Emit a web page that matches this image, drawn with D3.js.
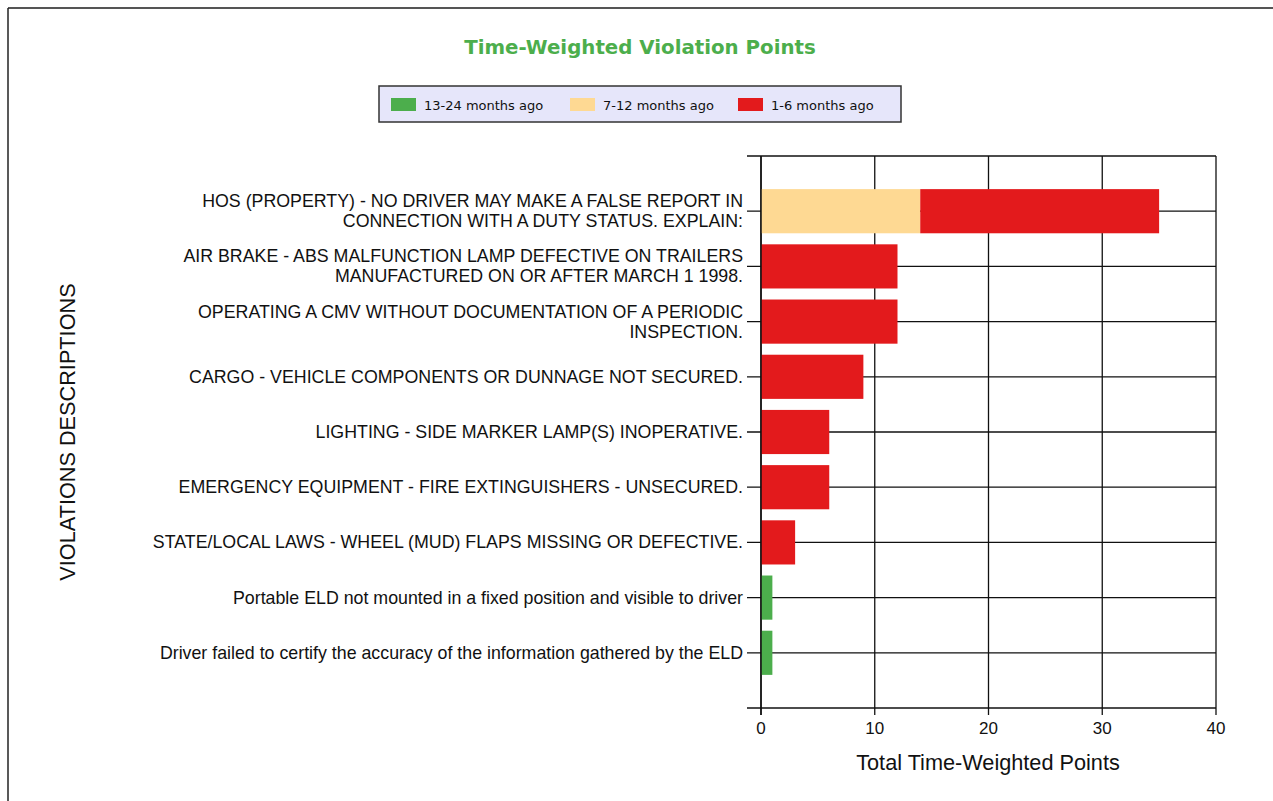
<!DOCTYPE html>
<html>
<head>
<meta charset="utf-8">
<script src="https://cdn.jsdelivr.net/npm/d3@7"></script>
<style>
  body { margin: 0; background: #fff; }
  svg text { font-family: "Liberation Sans", Arial, sans-serif; }
</style>
</head>
<body>
<div id="chart"></div>
<script>
// categories (top to bottom), each label split into lines
const categories = [
    ["HOS (PROPERTY) - NO DRIVER MAY MAKE A FALSE REPORT IN", "CONNECTION WITH A DUTY STATUS. EXPLAIN:"],
    ["AIR BRAKE - ABS MALFUNCTION LAMP DEFECTIVE ON TRAILERS", "MANUFACTURED ON OR AFTER MARCH 1 1998."],
    ["OPERATING A CMV WITHOUT DOCUMENTATION OF A PERIODIC", "INSPECTION."],
    ["CARGO - VEHICLE COMPONENTS OR DUNNAGE NOT SECURED."],
    ["LIGHTING - SIDE MARKER LAMP(S) INOPERATIVE."],
    ["EMERGENCY EQUIPMENT - FIRE EXTINGUISHERS - UNSECURED."],
    ["STATE/LOCAL LAWS - WHEEL (MUD) FLAPS MISSING OR DEFECTIVE."],
    ["Portable ELD not mounted in a fixed position and visible to driver"],
    ["Driver failed to certify the accuracy of the information gathered by the ELD"]
];

const seriesNames = ["13-24 months ago", "7-12 months ago", "1-6 months ago"];
const colors = ["#4cae4c", "#fed993", "#e31a1c"];

const months13to24 = [0, 0, 0, 0, 0, 0, 0, 1, 1];
const months7to12 = [14, 0, 0, 0, 0, 0, 0, 0, 0];
const months1to6 = [21, 12, 12, 9, 6, 6, 3, 0, 0];

const xTicks = [0, 10, 20, 30, 40];

const width = 1273, height = 801;
const plot = { left: 761, right: 1216, top: 156, bottom: 708 };

let svg = d3.select("#chart")
    .append("svg")
    .attr("width", width)
    .attr("height", height);

// outer frame (top and left edges only show)
svg.append("line")
    .attr("x1", 8).attr("x2", width)
    .attr("y1", 8).attr("y2", 8)
    .attr("stroke", "#555").attr("stroke-width", 2);
svg.append("line")
    .attr("x1", 8).attr("x2", 8)
    .attr("y1", 8).attr("y2", height)
    .attr("stroke", "#222").attr("stroke-width", 1.5);

// title
svg.append("text")
    .text("Time-Weighted Violation Points")
    .attr("x", 640).attr("y", 54)
    .attr("text-anchor", "middle")
    .style("font-family", "'DejaVu Sans', Verdana, sans-serif")
    .style("font-weight", "bold")
    .style("font-size", "19.8px")
    .attr("fill", "#4cae4c");

// legend
let legend = svg.append("g").attr("transform", "translate(379, 86)");
legend.append("rect")
    .attr("width", 522).attr("height", 36)
    .attr("fill", "#e6e6fa")
    .attr("stroke", "#333").attr("stroke-width", 1.5);
const legendX = [12, 191, 359];
seriesNames.forEach(function (name, i) {
    let g = legend.append("g").attr("transform", "translate(" + legendX[i] + ", 0)");
    g.append("rect")
        .attr("y", 12).attr("width", 25).attr("height", 13)
        .attr("fill", colors[i]);
    g.append("text")
        .text(name)
        .attr("x", 33).attr("y", 24)
        .style("font-family", "'DejaVu Sans', Verdana, sans-serif")
        .style("font-size", "13px")
        .attr("fill", "#111");
});

// scales
let x = d3.scaleLinear().domain([0, 40]).range([plot.left, plot.right]);
let y = d3.scalePoint().domain(d3.range(categories.length)).range([plot.top, plot.bottom]).padding(1);
const barH = y.step() * 0.8;

// gridlines
let grid = svg.append("g");
grid.selectAll("line.v")
    .data(xTicks)
    .enter()
    .append("line")
    .attr("x1", function (d) { return x(d); })
    .attr("x2", function (d) { return x(d); })
    .attr("y1", plot.top).attr("y2", plot.bottom + 7)
    .attr("stroke", "#111").attr("stroke-width", 1.3);
grid.selectAll("line.h")
    .data(d3.range(categories.length))
    .enter()
    .append("line")
    .attr("x1", plot.left - 14).attr("x2", plot.right)
    .attr("y1", function (d) { return y(d); })
    .attr("y2", function (d) { return y(d); })
    .attr("stroke", "#111").attr("stroke-width", 1.3);
// frame top and bottom
[plot.top, plot.bottom].forEach(function (yy) {
    grid.append("line")
        .attr("x1", plot.left - 14).attr("x2", plot.right)
        .attr("y1", yy).attr("y2", yy)
        .attr("stroke", "#111").attr("stroke-width", 1.5);
});

// stacked bars
let stackData = categories.map(function (c, i) {
    return { idx: i, a: months13to24[i], b: months7to12[i], c: months1to6[i] };
});
let stacked = d3.stack().keys(["a", "b", "c"])(stackData);

svg.append("g")
    .selectAll("g")
    .data(stacked)
    .enter()
    .append("g")
    .attr("fill", function (d, i) { return colors[i]; })
    .selectAll("rect")
    .data(function (d) { return d.filter(function (p) { return p[1] > p[0]; }); })
    .enter()
    .append("rect")
    .attr("x", function (d) { return x(d[0]); })
    .attr("width", function (d) { return x(d[1]) - x(d[0]); })
    .attr("y", function (d) { return y(d.data.idx) - barH / 2; })
    .attr("height", barH);

// y axis line
svg.append("line")
    .attr("x1", plot.left).attr("x2", plot.left)
    .attr("y1", plot.top).attr("y2", plot.bottom + 7)
    .attr("stroke", "#111").attr("stroke-width", 1.5);

// category labels
let labels = svg.append("g");
categories.forEach(function (lines, i) {
    let t = labels.append("text")
        .attr("text-anchor", "end")
        .style("font-size", "17.8px")
        .attr("fill", "#111");
    let y0 = y(i) - (lines.length - 1) * 20 / 2 + 6;
    lines.forEach(function (line, j) {
        t.append("tspan")
            .attr("x", 743)
            .attr("y", y0 + j * 20)
            .text(line);
    });
});

// x tick labels
svg.append("g")
    .selectAll("text")
    .data(xTicks)
    .enter()
    .append("text")
    .attr("x", function (d) { return x(d); })
    .attr("y", 734)
    .attr("text-anchor", "middle")
    .style("font-size", "17px")
    .attr("fill", "#111")
    .text(function (d) { return d; });

// axis titles
svg.append("text")
    .text("Total Time-Weighted Points")
    .attr("x", 988).attr("y", 770)
    .attr("text-anchor", "middle")
    .style("font-size", "21.7px")
    .attr("fill", "#111");

svg.append("text")
    .text("VIOLATIONS DESCRIPTIONS")
    .attr("transform", "translate(75, 432) rotate(-90)")
    .attr("text-anchor", "middle")
    .style("font-size", "21.7px")
    .attr("fill", "#111");
</script>
</body>
</html>
